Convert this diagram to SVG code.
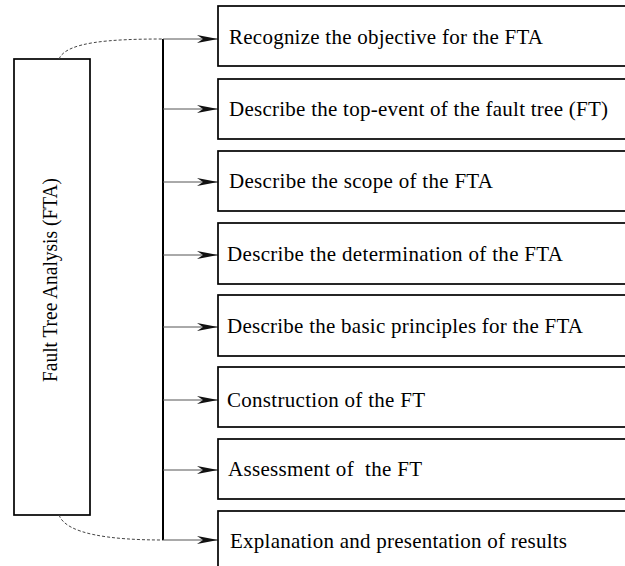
<svg xmlns="http://www.w3.org/2000/svg" width="625" height="566" viewBox="0 0 625 566">
<style>
  .box { fill: #fff; stroke: #000; stroke-width: 1.7; }
  .lbl { font-family: "Liberation Serif", "Times New Roman", serif; font-size: 21px; fill: #000; }
  .arr { stroke: #555; stroke-width: 1; fill: none; }
  .dash { stroke: #444; stroke-width: 1; fill: none; stroke-dasharray: 3 2; }
</style>
<defs>
  <marker id="ah" markerUnits="userSpaceOnUse" markerWidth="22" markerHeight="10" viewBox="0 -5 22 10" refX="21" refY="0" orient="auto" overflow="visible">
    <path d="M0,-4 L21,0 L0,4 L6,0 Z" fill="#111"/>
  </marker>
</defs>
<rect width="625" height="566" fill="#fff"/>

<g id="fta">
  <rect class="box" x="14" y="59" width="76" height="456" stroke-width="1.3"/>
  <text class="lbl" transform="translate(57,382) rotate(-90)" textLength="204" lengthAdjust="spacingAndGlyphs">Fault Tree Analysis (FTA)</text>
</g>

<g id="connectors">
  <path class="dash" d="M59,59 C66,42 110,39 163,39"/>
  <path class="dash" d="M59,515 C66,534 110,540 163,540"/>
  <line x1="163" y1="39" x2="163" y2="540" stroke="#000" stroke-width="2"/>
  <line class="arr" x1="163" y1="39" x2="218" y2="39" marker-end="url(#ah)"/>
  <line class="arr" x1="163" y1="109" x2="218" y2="109" marker-end="url(#ah)"/>
  <line class="arr" x1="163" y1="182" x2="218" y2="182" marker-end="url(#ah)"/>
  <line class="arr" x1="163" y1="255" x2="218" y2="255" marker-end="url(#ah)"/>
  <line class="arr" x1="163" y1="327" x2="218" y2="327" marker-end="url(#ah)"/>
  <line class="arr" x1="163" y1="400" x2="218" y2="400" marker-end="url(#ah)"/>
  <line class="arr" x1="163" y1="470" x2="218" y2="470" marker-end="url(#ah)"/>
  <line class="arr" x1="163" y1="540" x2="218" y2="540" marker-end="url(#ah)"/>
</g>

<g id="step1">
  <rect class="box" x="218" y="6" width="420" height="60"/>
  <text class="lbl" x="229" y="43.5" textLength="314" lengthAdjust="spacing">Recognize the objective for the FTA</text>
</g>
<g id="step2">
  <rect class="box" x="218" y="79" width="420" height="60"/>
  <text class="lbl" x="229" y="115.5" textLength="379" lengthAdjust="spacing">Describe the top-event of the fault tree (FT)</text>
</g>
<g id="step3">
  <rect class="box" x="218" y="151" width="420" height="60"/>
  <text class="lbl" x="229" y="188" textLength="264" lengthAdjust="spacing">Describe the scope of the FTA</text>
</g>
<g id="step4">
  <rect class="box" x="218" y="223" width="420" height="61"/>
  <text class="lbl" x="227" y="260.5" textLength="336" lengthAdjust="spacing">Describe the determination of the FTA</text>
</g>
<g id="step5">
  <rect class="box" x="218" y="295" width="420" height="61"/>
  <text class="lbl" x="227" y="333" textLength="356" lengthAdjust="spacing">Describe the basic principles for the FTA</text>
</g>
<g id="step6">
  <rect class="box" x="218" y="367" width="420" height="60"/>
  <text class="lbl" x="227" y="406.5" textLength="198" lengthAdjust="spacing">Construction of the FT</text>
</g>
<g id="step7">
  <rect class="box" x="218" y="439" width="420" height="60"/>
  <text class="lbl" x="228" y="476" textLength="194" lengthAdjust="spacing" xml:space="preserve">Assessment of  the FT</text>
</g>
<g id="step8">
  <rect class="box" x="218" y="511" width="420" height="60"/>
  <text class="lbl" x="230" y="547.5" textLength="337" lengthAdjust="spacing">Explanation and presentation of results</text>
</g>
</svg>
